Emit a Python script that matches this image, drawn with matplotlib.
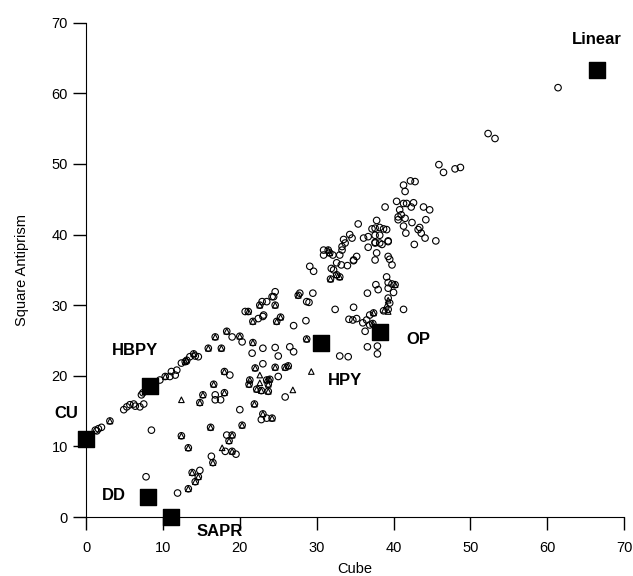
import numpy as np
import matplotlib
matplotlib.use("Agg")
import matplotlib.pyplot as plt

plt.rcParams['font.family'] = ['Liberation Sans', 'DejaVu Sans']

# reference polyhedra (black squares)
ref_names = ["Linear", "OP", "HPY", "HBPY", "CU", "DD", "SAPR"]
ref_x = [66.5, 38.3, 30.6, 8.3, 0.0, 8.0, 11.0]
ref_y = [63.3, 26.2, 24.6, 18.5, 11.0, 2.9, 0.0]
lab_x = [66.5, 43.2, 33.7, 6.3, -2.6, 3.6, 17.4]
lab_y = [67.6, 25.1, 19.3, 23.6, 14.7, 3.0, -2.0]

# structures drawn as open circles
circ_x = [1.2, 1.4, 1.6, 2.0, 3.1, 4.9, 5.3, 5.7, 6.2, 6.4, 7.0, 7.5, 7.2, 7.4,
          8.7, 9.0, 9.6, 10.3, 10.9, 11.6, 11.1, 11.8, 12.4, 12.9, 13.1, 13.5, 14.0, 14.2, 14.6,
          15.9, 17.6, 16.8, 18.3, 19.0, 20.0, 20.3, 20.7, 21.1, 21.7, 22.4, 23.0, 22.6, 22.9, 23.5,
          24.2, 24.6, 24.4, 24.6, 23.1, 24.8, 25.3, 27.0, 28.6, 27.6, 27.8, 29.5, 28.7, 29.0,
          29.1, 29.6, 30.9, 31.5, 30.9, 31.7, 32.1, 33.0, 33.3,
          31.9, 32.6, 33.2, 34.0, 34.8, 32.2, 32.6, 33.0, 31.8,
          35.2, 34.8, 37.8, 37.6, 39.3, 39.5, 39.8,
          34.3, 34.6, 33.5, 33.7, 33.3, 36.1, 36.7, 36.7, 37.6, 38.2, 39.3,
          35.4, 37.8, 37.2, 37.6, 38.2, 38.7, 39.1, 37.6, 38.2, 37.6, 38.5, 39.3,
          38.9, 40.4, 41.3, 41.7, 42.6, 40.8, 42.3, 43.9, 44.7,
          40.6, 41.0, 41.5, 40.6, 42.4, 44.2, 41.3, 43.4, 43.2, 43.6, 41.6, 44.1, 42.7, 45.5,
          41.3, 41.5, 42.2, 42.8, 45.9, 46.5, 48.0, 48.7, 52.3, 53.2, 61.4,
          7.8, 11.9, 8.5, 14.8, 15.2, 16.8, 16.8, 17.5, 16.6, 18.0, 12.4, 13.3, 16.2, 16.3, 16.5,
          13.8, 14.8, 14.6, 14.2, 13.3, 21.2, 22.2, 22.8, 23.7, 23.7, 21.9, 20.0, 20.3,
          23.0, 22.8, 23.5, 24.2, 25.9, 18.3, 19.0, 18.6, 18.1, 19.0, 19.5,
          18.0, 18.7, 22.0, 23.0, 21.3, 21.7, 23.0, 21.6, 24.6, 25.0, 26.5, 27.0,
          33.0, 34.1, 36.6, 37.9, 37.9, 28.7, 24.6, 25.9, 26.3, 25.0, 23.5, 23.9,
          32.4, 34.8, 34.2, 34.7, 35.2, 36.0, 36.5, 36.9, 37.4, 36.3, 36.9, 36.6,
          37.7, 38.0, 39.1, 39.3, 39.8, 40.2, 39.3, 40.0, 39.3, 39.5, 39.3, 38.7, 41.3, 37.3]
circ_y = [12.3, 12.2, 12.5, 12.7, 13.6, 15.2, 15.6, 15.9, 16.0, 15.7, 15.6, 16.0, 17.3, 17.6,
          18.0, 18.8, 19.4, 19.9, 19.9, 20.1, 20.6, 20.8, 21.8, 22.0, 22.2, 22.7, 23.1, 22.8, 22.7,
          23.9, 23.9, 25.5, 26.3, 25.5, 25.6, 24.8, 29.1, 29.1, 27.7, 28.1, 28.4, 30.0, 30.5, 30.5,
          31.2, 31.9, 31.2, 30.0, 28.6, 27.7, 28.3, 27.1, 27.8, 31.4, 31.7, 31.7, 30.5, 30.4,
          35.5, 34.8, 37.8, 37.8, 37.1, 37.4, 37.1, 37.1, 37.8,
          35.2, 36.0, 35.7, 35.6, 36.4, 35.0, 34.3, 34.0, 33.7,
          36.9, 36.3, 37.4, 36.4, 36.9, 36.5, 35.7,
          40.0, 39.5, 39.3, 38.8, 38.3, 39.5, 39.7, 38.2, 38.9, 38.8, 39.0,
          41.5, 42.0, 40.8, 40.9, 41.0, 40.8, 40.7, 39.9, 39.9, 38.8, 38.6, 39.1,
          43.9, 44.7, 44.4, 44.4, 44.5, 43.5, 43.9, 43.9, 43.5,
          42.5, 42.8, 42.3, 42.1, 41.7, 42.1, 41.2, 41.0, 40.7, 40.2, 40.2, 39.5, 38.6, 39.1,
          47.0, 46.1, 47.6, 47.5, 49.9, 48.8, 49.3, 49.5, 54.3, 53.6, 60.8,
          5.7, 3.4, 12.3, 16.2, 17.3, 17.3, 16.6, 16.6, 18.8, 17.6, 11.5, 9.8, 12.7, 8.6, 7.7,
          6.3, 6.6, 5.7, 5.0, 4.0, 18.8, 18.1, 17.9, 18.8, 17.8, 16.0, 15.2, 13.0,
          14.6, 13.8, 14.0, 14.0, 17.0, 11.6, 11.6, 10.8, 9.3, 9.3, 8.9,
          20.6, 20.1, 21.1, 21.7, 19.4, 24.7, 23.9, 23.2, 24.0, 22.8, 24.1, 23.4,
          22.8, 22.7, 24.1, 24.2, 23.1, 25.2, 21.2, 21.2, 21.4, 19.9, 19.4, 19.5,
          29.4, 29.7, 28.0, 27.9, 28.1, 27.5, 27.9, 28.6, 28.9, 26.3, 27.2, 31.7,
          32.9, 32.2, 34.0, 33.2, 33.0, 32.9, 32.4, 31.8, 31.0, 30.3, 29.4, 29.2, 29.4, 27.4]

# structures drawn as open triangles (many sit on top of a circle)
tri_x = [3.1, 8.7, 9.0, 10.3, 12.9, 13.1, 14.0, 15.9, 17.6, 16.8, 18.3, 20.0, 21.1, 21.7, 22.6,
         24.6, 24.8, 25.3, 27.6, 31.5, 31.7, 32.6, 33.0,
         12.4, 14.8, 15.2, 16.6, 18.0, 12.4, 13.3, 16.2, 16.5, 13.8, 14.6, 14.2, 13.3,
         21.2, 22.6, 22.2, 22.8, 23.7, 23.7, 21.9, 20.3, 23.0, 24.2, 26.9, 19.0, 18.6, 17.7, 19.0,
         18.0, 22.0, 22.6, 21.3, 21.7, 28.7, 24.6, 25.9, 26.3, 23.5, 23.9, 29.3,
         37.4, 40.2, 39.3, 39.1, 38.8, 39.3, 37.3, 31.8]
tri_y = [13.6, 18.0, 18.8, 19.9, 22.0, 22.2, 23.1, 23.9, 23.9, 25.5, 26.3, 25.6, 29.1, 27.7, 30.0,
         30.0, 27.7, 28.3, 31.4, 37.8, 37.4, 34.3, 34.0,
         16.6, 16.2, 17.3, 18.8, 17.6, 11.5, 9.8, 12.7, 7.7, 6.3, 5.7, 5.0, 4.0,
         18.8, 19.0, 18.1, 17.9, 18.8, 17.8, 16.0, 13.0, 14.6, 14.0, 18.0, 11.6, 10.8, 9.8, 9.3,
         20.6, 21.1, 20.1, 19.4, 24.7, 25.2, 21.2, 21.2, 21.4, 19.4, 19.5, 20.6,
         28.9, 32.9, 30.7, 30.0, 29.3, 29.1, 27.4, 33.7]

fig = plt.figure(figsize=(6.33, 5.76), dpi=100)
ax = fig.add_axes([0.136, 0.1024, 0.85, 0.8582])

ax.scatter(circ_x, circ_y, s=22, facecolors='none', edgecolors='black', linewidths=0.8, zorder=2)
ax.scatter(tri_x, tri_y, s=16, marker='^', facecolors='none', edgecolors='black', linewidths=0.8, zorder=3)
ax.scatter(ref_x, ref_y, s=140, marker='s', color='black', zorder=4, clip_on=False)

for name, tx, ty in zip(ref_names, lab_x, lab_y):
    ax.text(tx, ty, name, fontsize=12, fontweight='bold', ha='center', va='center')

ax.set_xlim(0, 70)
ax.set_ylim(0, 70)
ax.set_xticks(np.arange(0, 71, 10))
ax.set_yticks(np.arange(0, 71, 10))
ax.spines['top'].set_visible(False)
ax.spines['right'].set_visible(False)
ax.tick_params(direction='out', length=9.5, width=1, labelsize=10.5)
ax.tick_params(axis='x', pad=8)
ax.tick_params(axis='y', pad=3.5)
ax.set_xlabel("Cube", fontsize=10.5, labelpad=5)
ax.set_ylabel("Square Antiprism", fontsize=10.5, labelpad=16)

fig.savefig("out.png", dpi=100)
